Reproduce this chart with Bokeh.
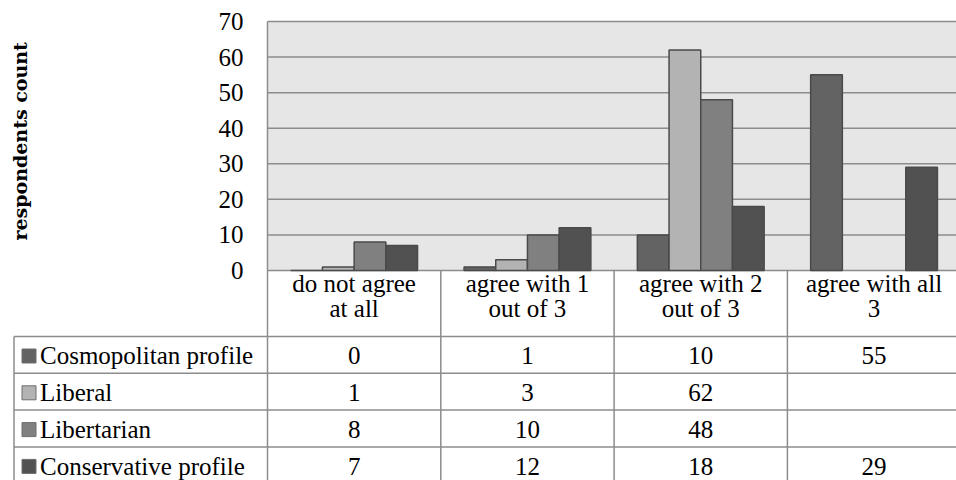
import math

from bokeh.plotting import figure
from bokeh.models import Range1d
from bokeh.core.properties import value
from bokeh.embed import file_html
from bokeh.resources import INLINE

# ---- data ---------------------------------------------------------------
categories = ["do not agree at all", "agree with 1 out of 3",
              "agree with 2 out of 3", "agree with all 3"]
category_lines = [["do not agree", "at all"], ["agree with 1", "out of 3"],
                  ["agree with 2", "out of 3"], ["agree with all", "3"]]
series_names = ["Cosmopolitan profile", "Liberal", "Libertarian", "Conservative profile"]
cosmopolitan = [0, 1, 10, 55]
liberal = [1, 3, 62, None]
libertarian = [8, 10, 48, None]
conservative = [7, 12, 18, 29]
y_ticks = [0, 10, 20, 30, 40, 50, 60, 70]
y_max = 70

series_values = [cosmopolitan, liberal, libertarian, conservative]
series_colors = ["#636363", "#b3b3b3", "#808080", "#515151"]

# ---- layout constants (pixels) -----------------------------------------
W, H = 956, 480
AXIS_X = 267          # left edge of the plotting area
PLOT_TOP, PLOT_BOTTOM = 21, 270
CAT_W = 173.3         # width of one category column
BAR_W = 31.7 / CAT_W  # bar width in category units
FONT = "Liberation Serif"
GRID = "#8c8c8c"
EDGE = "#4a4a4a"
MID = 7.6             # distance from text middle to its baseline at 25px


def ux(px):
    """Horizontal pixel position -> category units."""
    return (px - AXIS_X) / CAT_W


x_end = ux(W)

# value axis: 0 sits on PLOT_BOTTOM, y_max on PLOT_TOP
per_unit = (PLOT_BOTTOM - PLOT_TOP) / y_max
count_lo = 0 - (H - PLOT_BOTTOM) / per_unit
count_hi = y_max + PLOT_TOP / per_unit

p = figure(width=W, height=H, x_range=Range1d(ux(0), x_end), y_range=Range1d(H, 0),
           output_backend="svg", toolbar_location=None, x_axis_location=None,
           y_axis_location=None, min_border=0)
p.extra_y_ranges = {"counts": Range1d(count_lo, count_hi)}
p.outline_line_color = None
p.grid.visible = False
p.background_fill_color = "white"
p.border_fill_color = "white"

# ---- plotting area ----------------------------------------------------------
p.quad(left=[0], right=[x_end], bottom=[0], top=[y_max], y_range_name="counts",
       fill_color="#e6e6e6", line_color=None)
p.segment(x0=[0] * len(y_ticks), x1=[x_end] * len(y_ticks), y0=y_ticks, y1=y_ticks,
          y_range_name="counts", line_color=GRID, line_width=1.5)
p.segment(x0=[0], x1=[0], y0=[0], y1=[y_max], y_range_name="counts",
          line_color=GRID, line_width=1.5)

# tick labels and axis title
p.text(x=[ux(243)] * len(y_ticks), y=y_ticks, text=[str(v) for v in y_ticks],
       y_range_name="counts", text_align="right", text_baseline="middle",
       text_font=value(FONT), text_font_size="25px", text_color="black")
p.text(x=[ux(19)], y=[36.3], text=["respondents count"], angle=math.pi / 2,
       y_range_name="counts", text_align="center", text_baseline="middle",
       text_font=value("DejaVu Serif"), text_font_style="bold",
       text_font_size="19px", text_color="black")

# grouped bars
for j, (vals, color) in enumerate(zip(series_values, series_colors)):
    offset = (j - 1.5) * BAR_W
    xs = [i + 0.5 + offset for i in range(len(categories))]
    tops = [float("nan") if v is None else v for v in vals]
    p.vbar(x=xs, top=tops, bottom=0, width=BAR_W, y_range_name="counts",
           fill_color=color, line_color=EDGE, line_width=1.5)

# ---- data table below the chart ------------------------------------------
header_bottom = 336
row_h = 36.8
table_left = ux(13.5)
row_tops = [header_bottom + k * row_h for k in range(len(series_names))]

p.segment(x0=[table_left] * len(row_tops), x1=[x_end] * len(row_tops),
          y0=row_tops, y1=row_tops, line_color=GRID, line_width=1.5)
p.segment(x0=list(range(len(categories))), x1=list(range(len(categories))),
          y0=[PLOT_BOTTOM] * len(categories), y1=[H] * len(categories),
          line_color=GRID, line_width=1.5)
p.segment(x0=[table_left], x1=[table_left], y0=[header_bottom], y1=[H],
          line_color=GRID, line_width=1.5)

# category headers (two lines each)
cx = [i + 0.5 for i in range(len(categories))]
for k, base in enumerate([291, 316]):
    p.text(x=cx, y=[base - MID] * len(cx), text=[lines[k] for lines in category_lines],
           text_align="center", text_baseline="middle", text_font=value(FONT),
           text_font_size="25px", text_color="black")

# series rows: key, name and values
baselines = [top + 27 for top in row_tops]
p.rect(x=[ux(28.5)] * len(series_names), y=[b - 7.5 for b in baselines],
       width=14, height=14, width_units="screen", height_units="screen",
       fill_color=series_colors, line_color="#6e6e6e", line_width=1)
p.text(x=[ux(39.5)] * len(series_names), y=[b - MID for b in baselines], text=series_names,
       text_align="left", text_baseline="middle", text_font=value(FONT),
       text_font_size="25px", text_color="black")
for vals, base in zip(series_values, baselines):
    p.text(x=cx, y=[base - MID] * len(cx), text=["" if v is None else str(v) for v in vals],
           text_align="center", text_baseline="middle", text_font=value(FONT),
           text_font_size="25px", text_color="black")

open("out.html", "w").write(file_html(p, INLINE))
